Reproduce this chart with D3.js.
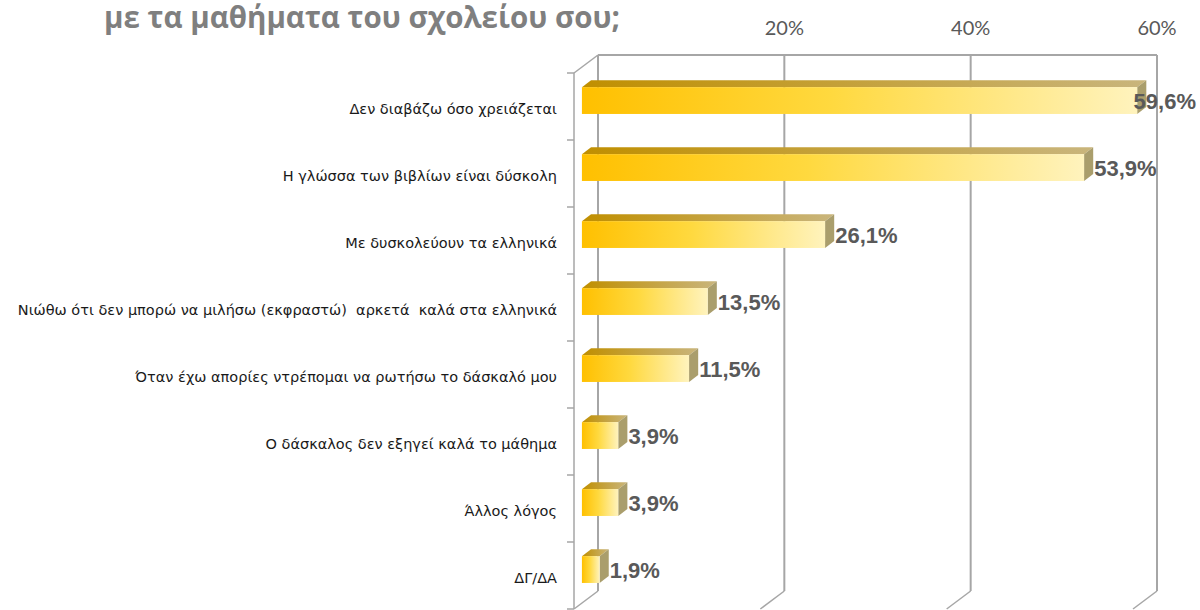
<!DOCTYPE html>
<html>
<head>
<meta charset="utf-8">
<script src="https://cdn.jsdelivr.net/npm/d3@7"></script>
<style>
  body { margin: 0; background: #fff; }
</style>
</head>
<body>
<div id="chart"></div>
<script>
// chart data
var title = "με τα μαθήματα του σχολείου σου;";
var categories = [
  "Δεν διαβάζω όσο χρειάζεται",
  "Η γλώσσα των βιβλίων είναι δύσκολη",
  "Με δυσκολεύουν τα ελληνικά",
  "Νιώθω ότι δεν μπορώ να μιλήσω (εκφραστώ)  αρκετά  καλά στα ελληνικά",
  "Όταν έχω απορίες ντρέπομαι να ρωτήσω το δάσκαλό μου",
  "Ο δάσκαλος δεν εξηγεί καλά το μάθημα",
  "Άλλος λόγος",
  "ΔΓ/ΔΑ"
];
var values = [59.6, 53.9, 26.1, 13.5, 11.5, 3.9, 3.9, 1.9];
var valueLabels = ["59,6%", "53,9%", "26,1%", "13,5%", "11,5%", "3,9%", "3,9%", "1,9%"];
var gridValues = [0, 20, 40, 60];
var tickLabels = ["20%", "40%", "60%"];

// svg container
var svgWidth = 1200;
var svgHeight = 610;

var svg = d3.select("#chart")
  .append("svg")
  .attr("width", svgWidth)
  .attr("height", svgHeight);

// 3d depth of the plot box and of the bars (0 = front, 1 = back wall)
var depth = { dx: 24, dy: 18 };
var barFront = 0.33;
var barBack = 0.71;
function P(x, y, z) { return [x + z * depth.dx, y - z * depth.dy]; }

// scales in the front plane
var xScale = d3.scaleLinear().domain([0, 60]).range([574, 1133]);
var yScale = d3.scaleBand()
  .domain(categories)
  .range([73, 609])
  .paddingInner(0.6)
  .paddingOuter(0.3);
var top0 = yScale.range()[0];
var bottom0 = yScale.range()[1];

var line = d3.line();
var gridColor = "#a6a6a6";

// gradients
var defs = svg.append("defs");
var frontGrad = defs.append("linearGradient").attr("id", "front");
frontGrad.append("stop").attr("offset", "0%").attr("stop-color", "#ffc000");
frontGrad.append("stop").attr("offset", "45%").attr("stop-color", "#ffd93f");
frontGrad.append("stop").attr("offset", "100%").attr("stop-color", "#fff3bd");
var topGrad = defs.append("linearGradient").attr("id", "topface");
topGrad.append("stop").attr("offset", "0%").attr("stop-color", "#c08f00");
topGrad.append("stop").attr("offset", "100%").attr("stop-color", "#c9b57c");

// walls and grid
var grid = svg.append("g").attr("fill", "none").attr("stroke", gridColor);

// back wall top edge
grid.append("path")
  .attr("stroke-width", 2)
  .attr("d", line([P(xScale(0), top0, 1), P(xScale(60), top0, 1)]));

// back wall vertical gridlines
grid.selectAll(".vgrid")
  .data(gridValues)
  .enter()
  .append("path")
  .attr("class", "vgrid")
  .attr("stroke-width", 2)
  .attr("d", d => line([P(xScale(d), top0, 1), P(xScale(d), bottom0, 1)]));

// floor lines
grid.selectAll(".floor")
  .data(gridValues)
  .enter()
  .append("path")
  .attr("class", "floor")
  .attr("stroke-width", 1.5)
  .attr("d", d => line([P(xScale(d), bottom0, 0), P(xScale(d), bottom0, 1)]));

// left wall
grid.append("path")
  .attr("stroke-width", 1.5)
  .attr("d", line([P(xScale(0), top0, 0), P(xScale(0), bottom0, 0)]));
grid.append("path")
  .attr("stroke-width", 1.5)
  .attr("d", line([P(xScale(0), top0, 0), P(xScale(0), top0, 1)]));

// category ticks
var tickPos = d3.range(categories.length + 1).map(i => top0 + i * yScale.step());
grid.selectAll(".ytick")
  .data(tickPos)
  .enter()
  .append("path")
  .attr("class", "ytick")
  .attr("stroke-width", 1.5)
  .attr("d", d => line([[xScale(0) - 7, d], P(xScale(0), d, 0)]));

// top axis labels
svg.append("g")
  .selectAll("text")
  .data(tickLabels)
  .enter()
  .append("text")
  .attr("x", (d, i) => P(xScale(gridValues[i + 1]), top0, 1)[0])
  .attr("y", 35)
  .attr("text-anchor", "middle")
  .attr("font-family", "Lato, 'Open Sans', sans-serif")
  .attr("font-size", "20px")
  .attr("fill", "#595959")
  .text(d => d);

// bars
var bars = svg.append("g")
  .selectAll("g")
  .data(categories)
  .enter()
  .append("g");

bars.each(function(c, i) {
  var g = d3.select(this);
  var t = yScale(c);
  var b = t + yScale.bandwidth();
  var x0 = xScale(0);
  var x1 = xScale(values[i]);
  var f0 = P(x0, t, barFront), f1 = P(x1, b, barFront);

  // top face
  g.append("path")
    .attr("fill", "url(#topface)")
    .attr("d", line([P(x0, t, barFront), P(x1, t, barFront), P(x1, t, barBack), P(x0, t, barBack)]) + "Z");
  // side face
  g.append("path")
    .attr("fill", "#aa9e6c")
    .attr("d", line([P(x1, t, barFront), P(x1, t, barBack), P(x1, b, barBack), P(x1, b, barFront)]) + "Z");
  // front face
  g.append("rect")
    .attr("x", f0[0])
    .attr("y", f0[1])
    .attr("width", f1[0] - f0[0])
    .attr("height", f1[1] - f0[1])
    .attr("fill", "url(#front)");
});

// category labels
svg.append("g")
  .selectAll("text")
  .data(categories)
  .enter()
  .append("text")
  .attr("x", 557)
  .attr("y", d => yScale(d) + yScale.bandwidth() / 2 + 2)
  .attr("dominant-baseline", "central")
  .attr("text-anchor", "end")
  .attr("font-family", "'DejaVu Sans', sans-serif")
  .attr("font-size", "14.5px")
  .attr("fill", "#1a1a1a")
  .style("white-space", "pre")
  .text(d => d);

// value labels
svg.append("g")
  .selectAll("text")
  .data(valueLabels)
  .enter()
  .append("text")
  .attr("y", (d, i) => yScale(categories[i]) + yScale.bandwidth() / 2 - barFront * depth.dy + 1)
  .attr("dominant-baseline", "central")
  .attr("font-family", "'Liberation Sans', Arial, sans-serif")
  .attr("font-weight", "bold")
  .attr("font-size", "22px")
  .attr("fill", "#595959")
  .text(d => d)
  .attr("x", function(d, i) {
    var xs = P(xScale(values[i]), 0, barBack)[0] + 1;
    var w = this.getComputedTextLength();
    return Math.min(xs, svgWidth - 4 - w);
  });

// title (its top is cut off in the original too)
svg.append("text")
  .attr("x", 362)
  .attr("y", 28)
  .attr("text-anchor", "middle")
  .attr("font-family", "'Open Sans', sans-serif")
  .attr("font-weight", "bold")
  .attr("font-size", "30px")
  .attr("textLength", 516)
  .attr("lengthAdjust", "spacingAndGlyphs")
  .attr("fill", "#7f7f7f")
  .text(title);
</script>
</body>
</html>
